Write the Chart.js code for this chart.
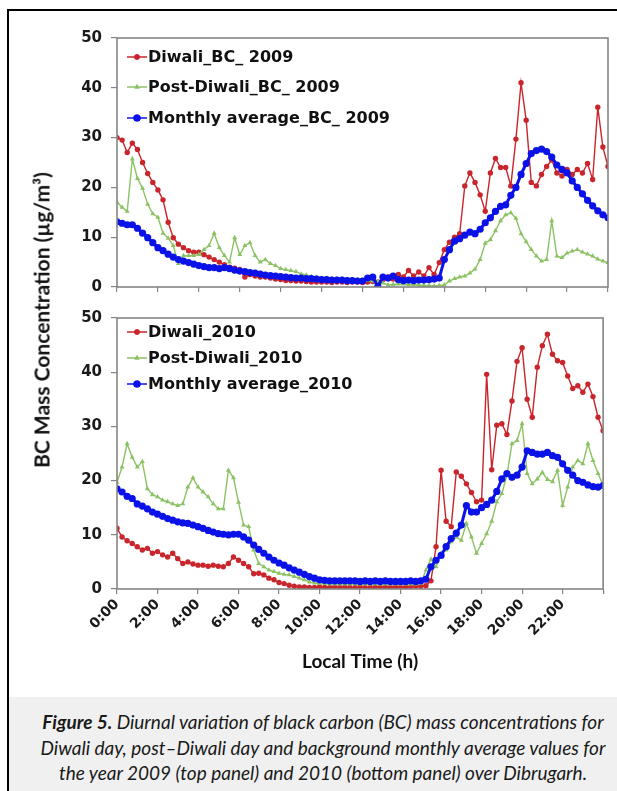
<!DOCTYPE html>
<html>
<head>
<meta charset="utf-8">
<script src="https://cdn.jsdelivr.net/npm/chart.js@4.4.0/dist/chart.umd.min.js"></script>
<style>
  html, body { margin: 0; padding: 0; background: #fff; width: 617px; height: 791px; overflow: hidden; }
  #frame { position: absolute; left: 7px; top: 9px; width: 660px; height: 820px; border-left: 2px solid #000; border-top: 2px solid #000; }
  #topWrap { position: absolute; left: 20px; top: 20px; }
  #botWrap { position: absolute; left: 20px; top: 300px; }
  #ytitle { position: absolute; left: 41px; top: 320px; transform: translate(-50%, -50%) rotate(-90deg);
            white-space: nowrap; font: bold 21px Lato, sans-serif; color: #111; }
  #caption { position: absolute; left: 9px; top: 697px; width: 628px; height: 94px; background: #f0f0f0;
             box-sizing: border-box; padding-top: 12px; text-align: center;
             font: italic 19px Lato, sans-serif; line-height: 25.5px; color: #1a1a1a; }
</style>
</head>
<body>
<div id="frame"></div>
<div id="topWrap"><canvas id="topChart" width="597" height="285"></canvas></div>
<div id="botWrap"><canvas id="botChart" width="597" height="376"></canvas></div>
<div id="ytitle">BC Mass Concentration (µg/m³)</div>
<div id="caption"><b>Figure 5.</b> Diurnal variation of black carbon (BC) mass concentrations for<br>Diwali day, post–Diwali day and background monthly average values for<br>the year 2009 (top panel) and 2010 (bottom panel) over Dibrugarh.</div>

<script>
// 15-minute samples, 0:00 .. 24:00 (97 values per series)
const hours = Array.from({ length: 97 }, (_, i) => i / 4);

const names2009 = ["Diwali_BC_ 2009", "Post-Diwali_BC_ 2009", "Monthly average_BC_ 2009"];
const names2010 = ["Diwali_2010", "Post-Diwali_2010", "Monthly average_2010"];

const diwali2009 = [
  30, 29.5, 27, 28.9,   27.6, 25, 22.8, 21,   19.5, 17.5, 13, 9.9,   8.6, 7.9, 7.3, 7,
  7, 6.5, 6, 5.5,       5, 4.5, 4, 3.8,       3.5, 2, 2.5, 2.2,      2, 2, 1.8, 1.6,
  1.5, 1.3, 1.3, 1.2,   1.2, 1.1, 1, 1,       1, 1, 0.9, 1,          1, 0.9, 1, 1,
  0.9, 1, 1.1, 1,       1.5, 2, 1.6, 2.5,     2, 3.3, 2.2, 3,        2.2, 3.9, 2.5, 4.9,
  7.5, 9, 10, 10.7,     20.3, 22.9, 21, 18.5, 15.2, 22.9, 25.8, 24,  24, 20.3, 29.7, 41,
  33.5, 21, 20.3, 22.6, 24.2, 25.5, 22.9, 22.3, 23.6, 22.6, 23.6, 22.9, 24.8, 21.6, 36.1, 28.1,
  24.2
];

const postDiwali2009 = [
  17, 16, 15.2, 25.7,   21.8, 19.8, 16.6, 14.7, 14, 10.8, 9.8, 8.3,   4.7, 6.3, 6.3, 6.3,
  6.5, 7.5, 8.3, 10.8,  7.9, 6.3, 5, 9.9,       6.5, 8.3, 8.9, 6.3,   5, 5.5, 4.7, 4.3,
  3.7, 3.5, 3.3, 3.1,   2.6, 2.4, 2.1, 2,       1.8, 1.8, 1.7, 1.7,   1.6, 1.6, 1.5, 1.5,
  1.4, 1.3, 1.2, 1.1,   0.8, 0.4, 0.5, 0.6,     0.6, 0.5, 0.5, 0.4,   0.3, 0.3, 0.2, 0.3,
  0.4, 1.2, 1.7, 2,     2.2, 2.8, 3.6, 5.5,     8.8, 9.5, 11.3, 13.3, 14.5, 14.9, 13.8, 10.7,
  9.1, 7.5, 6.2, 5.2,   5.5, 13.3, 6.2, 5.9,    6.8, 7.2, 7.5, 7,     6.6, 6.2, 5.6, 5.2,
  4.9
];

const monthly2009 = [
  13.1, 12.8, 12.5, 12.5, 11.8, 10.8, 9.9, 8.9,   7.9, 7.3, 6.6, 6,     5.5, 5.2, 4.9, 4.6,
  4.3, 4.1, 3.9, 3.9,     3.7, 3.9, 3.7, 3.4,     3.2, 3.1, 2.9, 2.8,   2.6, 2.4, 2.3, 2.2,
  2.1, 2, 1.9, 1.8,       1.8, 1.7, 1.7, 1.6,     1.5, 1.5, 1.4, 1.4,   1.4, 1.3, 1.3, 1.2,
  1.2, 1.8, 2, 0.1,       2, 1.8, 2.2, 1.5,       1.3, 1.4, 1.3, 1.4,   1.4, 1.5, 1.6, 1.8,
  5.5, 7.5, 9.2, 9.7,     10.4, 11, 10.7, 11.6,   12.9, 13.9, 15.2, 16.2, 16.5, 18.4, 20, 22.6,
  24.8, 26.8, 27.4, 27.7, 27.2, 26.1, 24.5, 23.6, 22.9, 21.3, 20, 18.7, 17.4, 16.3, 15.3, 14.5,
  13.9
];

const diwali2010 = [
  11.2, 9.6, 8.9, 8.4,  7.8, 7.2, 7.5, 6.6,     6.9, 6.3, 5.9, 6.6,   5.6, 4.7, 5, 4.6,
  4.4, 4.4, 4.2, 4.4,   4.2, 4.1, 4.7, 5.9,     5.3, 4.7, 4.1, 2.8,   2.9, 2.6, 2, 1.7,
  1.2, 1, 0.7, 0.5,     0.4, 0.4, 0.3, 0.3,     0.4, 0.3, 0.3, 0.4,   0.3, 0.4, 0.3, 0.3,
  0.4, 0.3, 0.3, 0.4,   0.3, 0.4, 0.3, 0.4,     0.3, 0.4, 0.4, 0.5,   0.5, 0.6, 1.5, 7.8,
  21.9, 12.5, 11.5, 21.6, 20.8, 19.4, 17.8, 16.1, 16.4, 39.6, 22, 30.2, 30.5, 28.5, 34.7, 42,
  44.5, 35, 31.7, 40.9, 44.9, 47, 43.3, 42.1,   41.8, 39.3, 37, 37.5, 36.3, 37.8, 35.5, 31.7,
  29.2
];

const postDiwali2010 = [
  19.7, 22.5, 26.8, 24.3, 22.5, 23.5, 18.5, 17.4, 17, 16.4, 16.1, 15.7, 15.4, 15.7, 18.8, 20.5,
  18.8, 17.9, 17, 15.7,   14.8, 14.8, 21.9, 20.5, 16, 11.8, 11.5, 7.2,  4.7, 4.1, 3.5, 3.2,
  2.9, 2.7, 2.6, 2.3,     2, 1.7, 1.3, 1.1,       1, 1, 0.9, 0.9,       0.9, 0.9, 0.9, 0.9,
  0.9, 0.9, 0.9, 0.9,     0.9, 0.9, 0.9, 0.9,     0.9, 0.9, 0.9, 0.9,   1, 3.5, 5.5, 4.1,
  6.6, 7.2, 8.7, 9.6,     9, 12.1, 9.6, 6.6,      8.4, 10.2, 12.5, 16.1, 17.6, 21, 26.8, 27.4,
  30.5, 21.3, 19.4, 20.3, 21.5, 20.2, 19.8, 21.9, 15.4, 18.8, 22.5, 23.7, 23.1, 26.8, 23.7, 21.3,
  19.1
];

const monthly2010 = [
  18.5, 17.9, 17.1, 16.7, 15.7, 15.3, 14.8, 14.2, 13.8, 13.4, 13, 12.7,  12.4, 12.2, 12.1, 11.8,
  11.5, 11.2, 10.8, 10.5, 10.2, 10.1, 10, 10.1,   10.1, 9.6, 9, 8.1,     7.3, 6.6, 5.9, 5.3,
  4.8, 4.4, 3.9, 3.5,     3.1, 2.7, 2.3, 2,       1.7, 1.6, 1.5, 1.5,    1.5, 1.5, 1.5, 1.5,
  1.4, 1.5, 1.4, 1.5,     1.4, 1.5, 1.4, 1.4,     1.4, 1.4, 1.5, 1.4,    1.5, 1.8, 4.1, 5.3,
  6.2, 7.8, 9.3, 10.3,    11.8, 15.4, 14.2, 14.2, 15, 15.6, 16.4, 18,    20.3, 21.3, 20.6, 21,
  22.5, 25.5, 25.2, 24.9, 24.9, 25.2, 24.6, 24.3, 23.1, 21.9, 21, 20,    19.7, 19.2, 18.9, 18.8,
  19.1
];

const RED = "#c9252c";
const GREEN = "#8cc265";
const BLUE = "#0b12e8";
const AXIS_GREY = "#858585";

function toPoints(values) {
  return values.map((v, i) => ({ x: hours[i], y: v }));
}

function buildDatasets(names, diwali, post, monthly) {
  return [
    { label: names[0], data: toPoints(diwali), borderColor: RED, backgroundColor: RED,
      borderWidth: 1.4, pointStyle: "circle", pointRadius: 2.7, pointBorderWidth: 0, order: 2 },
    { label: names[1], data: toPoints(post), borderColor: GREEN, backgroundColor: GREEN,
      borderWidth: 1.4, pointStyle: "triangle", pointRadius: 2.9, pointBorderWidth: 0, order: 1 },
    { label: names[2], data: toPoints(monthly), borderColor: BLUE, backgroundColor: BLUE,
      borderWidth: 3, pointStyle: "circle", pointRadius: 3.6, pointBorderWidth: 0, order: 0 },
  ];
}

// grey box round the plot area
const frameBox = {
  id: "frameBox",
  afterDatasetsDraw(chart) {
    const a = chart.chartArea;
    const ctx = chart.ctx;
    ctx.save();
    ctx.strokeStyle = AXIS_GREY;
    ctx.lineWidth = 1.6;
    ctx.strokeRect(a.left, a.top, a.right - a.left, a.bottom - a.top);
    ctx.restore();
  }
};

// legend drawn inside the plot, top left, one row per series
const insideLegend = {
  id: "insideLegend",
  afterDraw(chart, args, opts) {
    const a = chart.chartArea;
    const ctx = chart.ctx;
    ctx.save();
    ctx.font = "bold 16px 'DejaVu Sans'";
    ctx.textBaseline = "middle";
    chart.data.datasets.forEach((ds, k) => {
      const y = a.top + opts.rows[k];
      const x0 = a.left + 10;
      ctx.strokeStyle = ds.borderColor;
      ctx.lineWidth = 1.5;
      ctx.beginPath();
      ctx.moveTo(x0, y);
      ctx.lineTo(x0 + 20, y);
      ctx.stroke();
      ctx.fillStyle = ds.borderColor;
      Chart.helpers.drawPoint(ctx, { pointStyle: ds.pointStyle, radius: ds.pointRadius, borderWidth: 0 }, x0 + 10, y);
      ctx.fill();
      ctx.fillStyle = "#111";
      ctx.fillText(ds.label, x0 + 21, y + 1);
    });
    ctx.restore();
  }
};

function makeOptions(showTimeLabels, legendRows, padTop, xHeight) {
  return {
    responsive: false,
    animation: false,
    layout: { padding: { top: padTop, right: 9, left: 0, bottom: 0 } },
    plugins: {
      legend: { display: false },
      tooltip: { enabled: false },
      insideLegend: { rows: legendRows },
    },
    scales: {
      x: {
        type: "linear",
        min: 0,
        max: 24,
        afterFit(scale) { scale.height = xHeight; },
        ticks: {
          stepSize: 2,
          autoSkip: false,
          minRotation: showTimeLabels ? 45 : 0,
          maxRotation: showTimeLabels ? 45 : 0,
          padding: 2,
          color: "#1a1a1a",
          font: { family: "'DejaVu Sans'", size: 14, weight: "bold" },
          callback: v => (showTimeLabels && v < 24 ? v + ":00" : ""),
        },
        grid: { drawOnChartArea: false, drawTicks: true, tickLength: 5, color: AXIS_GREY, lineWidth: 1.2 },
        border: { display: false },
        title: {
          display: showTimeLabels,
          text: "Local Time (h)",
          color: "#111",
          font: { family: "Lato", size: 19, weight: "bold" },
          padding: { top: 0, bottom: 3 },
        },
      },
      y: {
        min: 0,
        max: 50,
        afterFit(scale) { scale.width = 97; },
        ticks: {
          stepSize: 10,
          padding: 9,
          color: "#1a1a1a",
          font: { family: "'DejaVu Sans'", size: 15, weight: "bold" },
        },
        grid: { drawOnChartArea: false, drawTicks: true, tickLength: 6, color: AXIS_GREY, lineWidth: 1.2 },
        border: { display: false },
      },
    },
  };
}

new Chart(document.getElementById("topChart"), {
  type: "line",
  data: { datasets: buildDatasets(names2009, diwali2009, postDiwali2009, monthly2009) },
  options: makeOptions(false, [19, 49, 80], 13, 13),
  plugins: [frameBox, insideLegend],
});

new Chart(document.getElementById("botChart"), {
  type: "line",
  data: { datasets: buildDatasets(names2010, diwali2010, postDiwali2010, monthly2010) },
  options: makeOptions(true, [14, 40, 66], 17, 87),
  plugins: [frameBox, insideLegend],
});
</script>
</body>
</html>
